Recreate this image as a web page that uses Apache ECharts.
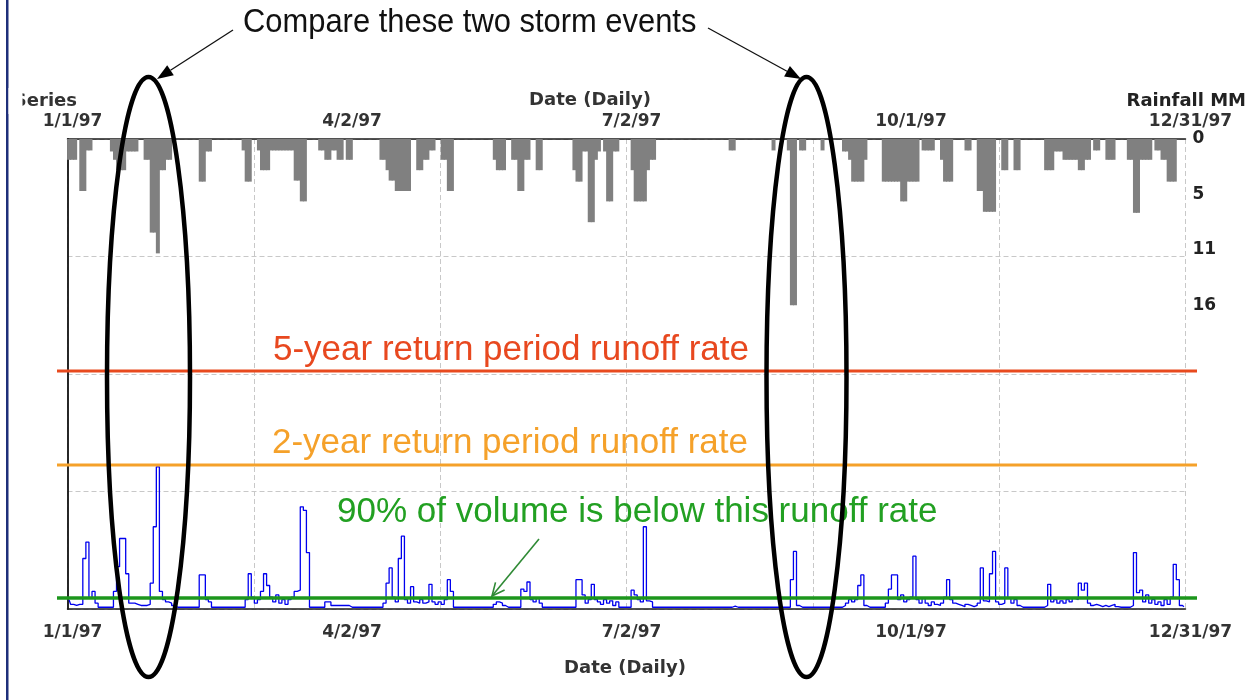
<!DOCTYPE html>
<html><head><meta charset="utf-8">
<script src="https://cdn.jsdelivr.net/npm/echarts@6/dist/echarts.min.js"></script>
<style>html,body{margin:0;padding:0;background:#fff}#c{width:1257px;height:700px}</style>
</head><body><div id="c"></div>
<script>
// ---- data ----
const tickLabels = ['1/1/97', '4/2/97', '7/2/97', '10/1/97', '12/31/97'];
const rainTickValues = [0, 16 / 3, 32 / 3, 16];
// daily rainfall (mm), day 0 = 1/1/97
const rainfallMM = [
  2, 2, 2, 0, 5, 5, 1.1, 1.1, 0, 0,
  0, 0, 0, 0, 1.2, 2, 3, 3, 3, 1.2,
  1.2, 1.2, 1.2, 0, 0, 2, 2, 9, 9, 11,
  3, 3, 2, 2, 0, 0, 0, 0, 0, 0,
  0, 0, 0, 4.1, 4.1, 1.2, 1.2, 0, 0, 0,
  0, 0, 0, 0, 0, 0, 0, 1.1, 4.1, 4.1,
  0, 0, 1.1, 3, 3, 3, 1.1, 1.1, 1.1, 1.1,
  1.1, 1.1, 1.1, 1.1, 4, 4, 6, 6, 0, 0,
  0, 0, 1.1, 1.1, 2, 2, 1.1, 1.1, 2, 2,
  0, 2, 2, 0, 0, 0, 0, 0, 0, 0,
  0, 0, 2, 2, 3, 4, 4, 5, 5, 5,
  5, 5, 0, 0, 3, 3, 2, 2, 1.1, 1.1,
  0, 0, 2, 2, 5, 5, 0, 0, 0, 0,
  0, 0, 0, 0, 0, 0, 0, 0, 0, 2,
  3, 3, 3, 0, 0, 2, 2, 5, 5, 2,
  2, 0, 0, 3, 3, 0, 0, 0, 0, 0,
  0, 0, 0, 0, 0, 3, 4.1, 4.1, 1.2, 1.2,
  8, 8, 2, 1.2, 0, 1.2, 6, 6, 1.2, 1.2,
  0, 0, 0, 0, 3, 6, 6, 6, 6, 3,
  2, 2, 0, 0, 0, 0, 0, 0, 0, 0,
  0, 0, 0, 0, 0, 0, 0, 0, 0, 0,
  0, 0, 0, 0, 0, 0, 1.1, 1.1, 0, 0,
  0, 0, 0, 0, 0, 0, 0, 0, 0, 0,
  1.1, 0, 0, 0, 0, 1.1, 16, 16, 0, 1.1,
  1.1, 0, 0, 0, 0, 0, 1.1, 0, 0, 0,
  0, 0, 0, 1.2, 1.2, 2, 4.1, 4.1, 4.1, 4.1,
  2, 0, 0, 0, 0, 0, 4.1, 4.1, 4.1, 4.1,
  4.1, 4.1, 6, 6, 4.1, 4.1, 4.1, 4.1, 0, 1.1,
  1.1, 1.1, 1.1, 0, 0, 2, 4.1, 4.1, 4.1, 0,
  0, 0, 0, 1.1, 1.1, 0, 0, 5, 5, 7,
  7, 7, 7, 0, 0, 3, 3, 0, 0, 3,
  3, 0, 0, 0, 0, 0, 0, 0, 0, 3,
  3, 3, 1.2, 1.2, 1.2, 2, 2, 2, 2, 2,
  3, 3, 2, 2, 0, 1.1, 1.1, 0, 0, 2,
  2, 2, 0, 0, 0, 0, 2, 2, 7.1, 7.1,
  2, 2, 2, 2, 0, 1.1, 1.1, 2, 2, 4.1,
  4.1, 4.1, 0, 0, 0
];
// daily runoff rate (relative units), day 0 = 1/1/97
const runoff = [
  0.8, 0.4, 0.3, 0.4, 0.4, 4.3, 5.7, 0.9, 1.5, 0.5,
  0.15, 0.15, 0.15, 0.15, 0.15, 1.5, 3.6, 6.0, 6.0, 3.0,
  0.5, 0.5, 0.4, 0.3, 0.3, 0.3, 0.4, 2.2, 7.0, 12.1,
  1.5, 0.8, 0.6, 0.5, 0.3, 0.15, 0.15, 0.15, 0.15, 0.15,
  0.15, 0.15, 0.15, 2.9, 2.9, 0.8, 0.6, 0.15, 0.15, 0.15,
  0.15, 0.15, 0.15, 0.15, 0.15, 0.15, 0.15, 0.15, 0.8, 3.0,
  1.0, 0.5, 0.8, 1.5, 3.0, 2.0, 1.0, 0.6, 1.2, 0.5,
  0.8, 0.4, 0.8, 1.0, 1.5, 1.6, 8.7, 8.4, 4.8, 0.15,
  0.15, 0.15, 0.15, 0.15, 0.6, 0.6, 0.3, 0.3, 0.3, 0.3,
  0.3, 0.3, 0.15, 0.15, 0.15, 0.15, 0.15, 0.15, 0.15, 0.15,
  0.15, 0.15, 0.15, 0.5, 2.2, 3.5, 1.0, 0.6, 4.3, 6.2,
  0.8, 0.5, 1.9, 0.6, 0.5, 0.8, 0.5, 0.6, 2.1, 0.6,
  0.4, 0.6, 0.4, 0.8, 2.5, 1.5, 0.15, 0.15, 0.15, 0.15,
  0.15, 0.15, 0.15, 0.15, 0.15, 0.15, 0.15, 0.15, 0.15, 0.4,
  0.6, 0.5, 0.3, 0.15, 0.15, 0.15, 0.15, 0.15, 1.7, 1.5,
  2.3, 0.8, 0.6, 0.9, 0.5, 0.15, 0.15, 0.15, 0.15, 0.15,
  0.15, 0.15, 0.15, 0.15, 0.15, 0.15, 2.5, 2.5, 1.2, 0.5,
  0.8, 2.1, 0.8, 0.6, 0.4, 0.8, 0.5, 0.7, 0.3, 0.6,
  0.15, 0.15, 0.15, 0.15, 1.6, 1.2, 0.8, 0.6, 7.0, 0.7,
  0.6, 0.15, 0.15, 0.15, 0.15, 0.15, 0.15, 0.15, 0.15, 0.15,
  0.15, 0.15, 0.15, 0.15, 0.15, 0.15, 0.15, 0.15, 0.15, 0.15,
  0.15, 0.15, 0.15, 0.15, 0.15, 0.15, 0.15, 0.25, 0.15, 0.15,
  0.15, 0.15, 0.15, 0.15, 0.15, 0.15, 0.15, 0.15, 0.15, 0.15,
  0.15, 0.15, 0.15, 0.15, 0.15, 0.15, 2.5, 4.9, 0.3, 0.15,
  0.15, 0.15, 0.15, 0.15, 0.15, 0.15, 0.15, 0.15, 0.15, 0.15,
  0.15, 0.15, 0.15, 0.3, 0.5, 0.8, 0.6, 0.8, 2.0, 2.9,
  0.3, 0.15, 0.15, 0.15, 0.15, 0.15, 0.15, 0.5, 1.7, 2.9,
  2.9, 0.8, 1.2, 0.6, 0.8, 1.0, 4.5, 0.8, 0.5, 0.9,
  0.5, 0.3, 0.6, 0.4, 0.3, 0.5, 1.0, 2.5, 0.8, 0.5,
  0.4, 0.3, 0.2, 0.4, 0.3, 0.2, 0.3, 0.5, 3.5, 0.7,
  0.6, 3.0, 4.9, 0.6, 0.4, 0.5, 3.5, 0.9, 0.5, 0.8,
  0.3, 0.15, 0.15, 0.15, 0.15, 0.15, 0.15, 0.15, 0.15, 0.3,
  2.1, 0.6, 0.8, 0.5, 0.7, 0.5, 0.8, 0.6, 0.9, 0.8,
  2.2, 1.6, 2.2, 0.5, 0.3, 0.4, 0.3, 0.2, 0.3, 0.2,
  0.3, 0.4, 0.2, 0.15, 0.15, 0.15, 0.15, 0.3, 4.8, 1.4,
  1.6, 0.6, 1.2, 0.5, 0.8, 0.4, 0.6, 0.3, 0.8, 0.4,
  1.0, 3.8, 2.5, 0.3, 0.2
];
const thresholds = [20.26, 12.26, 0.94];
const thresholdNames = ['5-year return period runoff rate', '2-year return period runoff rate', '90% of volume is below this runoff rate'];
const thresholdColors = ['#e84a1e', '#f5a12a', '#1c961c'];
const thresholdTextColors = ['#e8481f', '#f5a12a', '#22a022'];

// ---- chart ----
const AX_FONT = "'DejaVu Sans', Verdana, sans-serif";
const ANN_FONT = "'Liberation Sans', Arial, sans-serif";
const chart = echarts.init(document.getElementById('c'), null, {renderer: 'canvas'});
const gridLine = {show: true, lineStyle: {color: '#c8c8c8', type: [5, 3], width: 1}};
const axisBlack = {show: true, lineStyle: {color: '#1a1a1a', width: 1.5}};
const dateLabel = (margin) => ({
  show: true, margin: margin, padding: [0, 0, 0, 10],
  showMinLabel: true, showMaxLabel: true,
  fontFamily: AX_FONT, fontWeight: 'bold', fontSize: 17, color: '#333',
  formatter: v => tickLabels[Math.round(v / 91.25)] || ''
});

const option = {
  animation: false,
  backgroundColor: '#ffffff',
  grid: [
    {left: 67.5, right: 71.5, top: 139, bottom: 91},
    {left: 57, right: 60, top: 139, bottom: 91}
  ],
  xAxis: [
    {gridIndex: 0, type: 'value', min: 0, max: 365, interval: 365 / 6, position: 'bottom',
      axisLine: axisBlack, axisTick: {show: false}, axisLabel: {show: false}, splitLine: gridLine},
    {gridIndex: 0, type: 'value', min: 0, max: 365, interval: 91.25, position: 'top',
      axisLine: axisBlack, axisTick: {show: false}, splitLine: {show: false}, axisLabel: dateLabel(9)},
    {gridIndex: 0, type: 'value', min: 0, max: 365, interval: 91.25, position: 'bottom',
      axisLine: {show: false}, axisTick: {show: false}, splitLine: {show: false}, axisLabel: dateLabel(15)},
    {gridIndex: 1, type: 'value', min: 0, max: 1, show: false}
  ],
  yAxis: [
    {gridIndex: 0, type: 'value', min: 0, max: 40, interval: 10, position: 'left',
      axisLine: axisBlack, axisTick: {show: false}, axisLabel: {show: false}, splitLine: gridLine},
    {gridIndex: 0, type: 'value', min: 0, max: 45.2, inverse: true, position: 'right',
      axisLine: axisBlack,
      axisTick: {show: false},
      axisLabel: {show: true, customValues: rainTickValues, margin: 7, fontFamily: AX_FONT, fontWeight: 'bold',
        fontSize: 17, color: '#222', formatter: v => String(Math.round(v))},
      splitLine: {show: false}},
    {gridIndex: 1, type: 'value', min: 0, max: 40, show: false}
  ],
  series: [
    {type: 'bar', name: 'Rainfall', xAxisIndex: 0, yAxisIndex: 1, barWidth: 4, z: 2,
      itemStyle: {color: '#808080'},
      data: rainfallMM.map((v, i) => [i + 0.5, v > 0 ? v : '-'])},
    {type: 'line', name: 'Runoff', xAxisIndex: 0, yAxisIndex: 0, step: 'middle', showSymbol: false, z: 3,
      lineStyle: {color: '#0000ee', width: 1.3},
      data: runoff.map((v, i) => [i + 0.5, v])}
  ].concat(thresholds.map((t, k) => ({
    type: 'line', name: thresholdNames[k], xAxisIndex: 3, yAxisIndex: 2, showSymbol: false, z: 5,
    lineStyle: {color: thresholdColors[k], width: k === 2 ? 3.5 : 3},
    data: [[0, t], [1, t]]
  }))),
  graphic: [
    {type: 'rect', shape: {x: 6, y: 0, width: 2.5, height: 700}, style: {fill: '#1e2f7a'}, z: 100},
    {type: 'text', x: 77, y: 101, style: {text: 'Series', fontFamily: AX_FONT, fontWeight: 'bold', fontSize: 18,
      fill: '#333', textAlign: 'right', textVerticalAlign: 'middle'}, z: 100},
    {type: 'rect', shape: {x: 8.5, y: 88, width: 14, height: 26}, style: {fill: '#fff'}, z: 101},
    {type: 'text', x: 590, y: 100, style: {text: 'Date (Daily)', fontFamily: AX_FONT, fontWeight: 'bold', fontSize: 18,
      fill: '#333', textAlign: 'center', textVerticalAlign: 'middle'}, z: 100},
    {type: 'text', x: 625, y: 668, style: {text: 'Date (Daily)', fontFamily: AX_FONT, fontWeight: 'bold', fontSize: 18,
      fill: '#333', textAlign: 'center', textVerticalAlign: 'middle'}, z: 100},
    {type: 'text', x: 1246, y: 101, style: {text: 'Rainfall MM', fontFamily: AX_FONT, fontWeight: 'bold', fontSize: 18,
      fill: '#222', textAlign: 'right', textVerticalAlign: 'middle'}, z: 100},
    {type: 'text', x: 273, y: 350, style: {text: thresholdNames[0], fontFamily: ANN_FONT, fontSize: 35,
      fill: thresholdTextColors[0], textAlign: 'left', textVerticalAlign: 'middle'}, z: 100},
    {type: 'text', x: 272, y: 443, style: {text: thresholdNames[1], fontFamily: ANN_FONT, fontSize: 35,
      fill: thresholdTextColors[1], textAlign: 'left', textVerticalAlign: 'middle'}, z: 100},
    {type: 'text', x: 337, y: 512, style: {text: thresholdNames[2], fontFamily: ANN_FONT, fontSize: 35,
      fill: thresholdTextColors[2], textAlign: 'left', textVerticalAlign: 'middle'}, z: 100},
    {type: 'text', x: 243, y: 23, scaleX: 1.03, scaleY: 1.08, originX: 0, originY: 0,
      style: {text: 'Compare these two storm events', fontFamily: ANN_FONT, fontSize: 30,
      fill: '#111', textAlign: 'left', textVerticalAlign: 'middle'}, z: 100},
    {type: 'ellipse', shape: {cx: 148.5, cy: 377, rx: 41.5, ry: 300}, style: {fill: 'none', stroke: '#000', lineWidth: 4.5}, z: 110},
    {type: 'ellipse', shape: {cx: 806.5, cy: 377, rx: 40, ry: 300}, style: {fill: 'none', stroke: '#000', lineWidth: 4.5}, z: 110},
    {type: 'line', shape: {x1: 233, y1: 30, x2: 170.5, y2: 70.3}, style: {stroke: '#111', lineWidth: 1.3}, z: 110},
    {type: 'polygon', shape: {points: [[157, 79], [173.8, 75.3], [167.2, 65.3]]}, style: {fill: '#000'}, z: 110},
    {type: 'line', shape: {x1: 708, y1: 28, x2: 787, y2: 71.3}, style: {stroke: '#111', lineWidth: 1.3}, z: 110},
    {type: 'polygon', shape: {points: [[801, 79], [789.9, 66], [784.1, 76.6]]}, style: {fill: '#000'}, z: 110},
    {type: 'line', shape: {x1: 539, y1: 539, x2: 492, y2: 596}, style: {stroke: '#2f8a35', lineWidth: 1.6}, z: 110},
    {type: 'polyline', shape: {points: [[504.6, 590], [492, 596], [495.5, 582.4]]}, style: {stroke: '#2f8a35', lineWidth: 1.6, fill: 'none'}, z: 110}
  ]
};
chart.setOption(option);
</script>
</body></html>
